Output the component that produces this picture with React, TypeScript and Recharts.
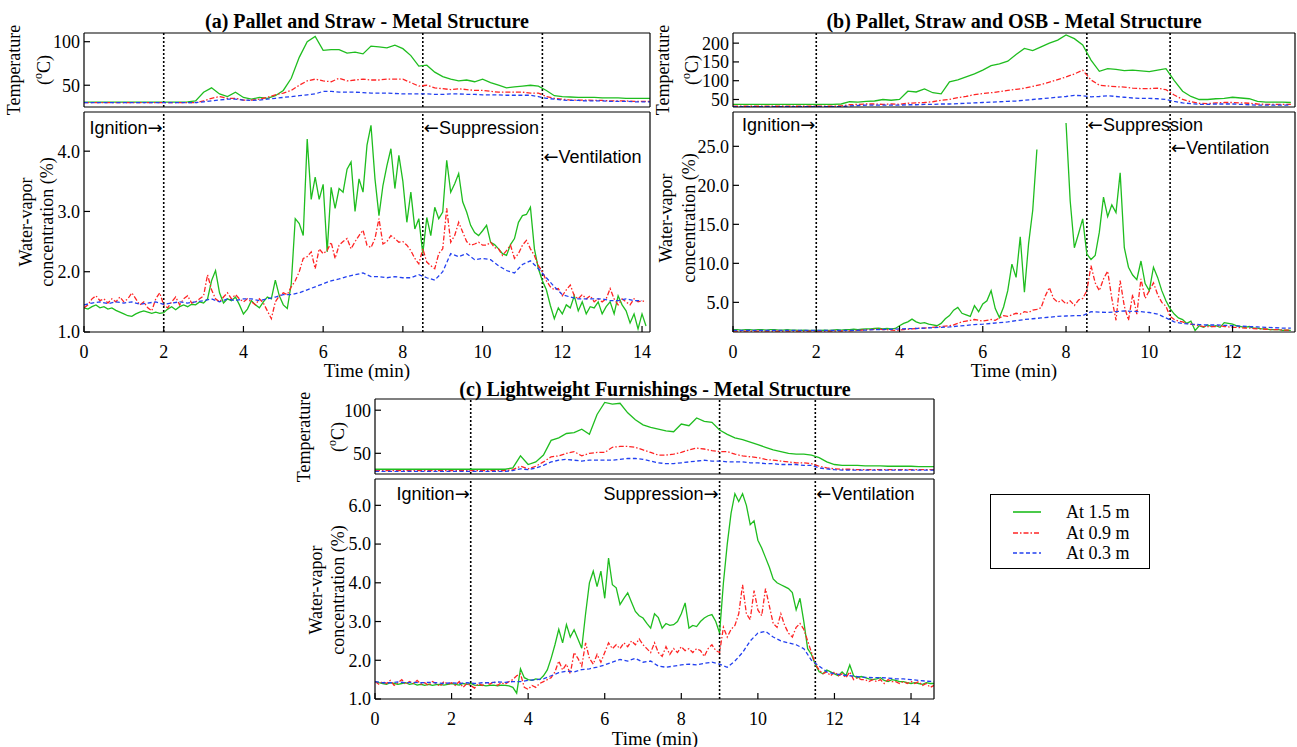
import React from "react"
import { LineChart, Line, XAxis, YAxis, ReferenceLine, Legend } from "recharts"

// ---- data ----
// water vapour: green/red sampled every 0.1 min, blue every 0.2 min
// temperature: every 0.2 min

const A_VAP_G = [
  1.40, 1.38, 1.42, 1.45, 1.40, 1.42, 1.38, 1.40, 1.36, 1.33,
  1.30, 1.27, 1.26, 1.30, 1.33, 1.35, 1.33, 1.31, 1.33, 1.31,
  1.32, 1.38, 1.42, 1.37, 1.42, 1.45, 1.42, 1.46, 1.45, 1.50,
  1.48, 1.55, 1.85, 2.02, 1.65, 1.48, 1.55, 1.52, 1.58, 1.45,
  1.30, 1.38, 1.52, 1.45, 1.40, 1.50, 1.58, 1.55, 1.86, 1.60,
  1.45, 1.39, 1.80, 2.88, 2.80, 2.60, 4.20, 3.20, 3.57, 3.20,
  3.45, 2.33, 3.40, 3.05, 3.38, 3.32, 3.70, 3.82, 3.00, 3.54,
  3.32, 4.10, 4.43, 3.54, 2.93, 3.43, 3.76, 4.04, 3.38, 3.93,
  3.50, 2.82, 3.32, 2.71, 2.88, 2.30, 2.90, 2.60, 3.07, 2.88,
  2.99, 3.85, 3.32, 3.46, 3.63, 3.16, 2.99, 2.77, 2.65, 2.60,
  2.68, 2.77, 2.49, 2.45, 2.38, 2.30, 2.27, 2.45, 2.55, 2.82,
  2.93, 2.95, 3.07, 2.38, 2.05, 1.85, 1.70, 1.44, 1.22, 1.40,
  1.30, 1.45, 1.40, 1.60, 1.35, 1.50, 1.30, 1.42, 1.40, 1.50,
  1.30, 1.42, 1.50, 1.30, 1.60, 1.45, 1.35, 1.15, 1.30, 1.05,
  1.30, 1.10,
]
const A_VAP_R = [
  1.40, 1.45, 1.55, 1.60, 1.52, 1.55, 1.48, 1.55, 1.50, 1.58,
  1.50, 1.55, 1.65, 1.55, 1.45, 1.50, 1.40, 1.35, 1.55, 1.65,
  1.45, 1.40, 1.50, 1.58, 1.45, 1.55, 1.60, 1.48, 1.50, 1.55,
  1.60, 1.95, 1.70, 1.55, 1.50, 1.58, 1.65, 1.55, 1.62, 1.55,
  1.50, 1.55, 1.50, 1.45, 1.55, 1.48, 1.35, 1.22, 1.50, 1.60,
  1.65, 1.62, 1.75, 1.85, 2.00, 2.22, 2.25, 2.33, 2.05, 2.38,
  2.30, 2.35, 2.49, 2.22, 2.44, 2.50, 2.55, 2.38, 2.50, 2.60,
  2.69, 2.44, 2.40, 2.55, 2.88, 2.46, 2.50, 2.60, 2.55, 2.49,
  2.50, 2.44, 2.35, 2.22, 2.13, 2.38, 2.16, 2.10, 2.05, 2.30,
  2.38, 3.05, 2.49, 2.60, 2.82, 2.66, 2.50, 2.44, 2.46, 2.49,
  2.44, 2.44, 2.49, 2.40, 2.38, 2.27, 2.35, 2.44, 2.22, 2.30,
  2.44, 2.52, 2.38, 2.27, 2.10, 2.00, 1.85, 1.75, 1.70, 1.72,
  1.60, 1.70, 1.78, 1.60, 1.55, 1.62, 1.55, 1.60, 1.50, 1.55,
  1.50, 1.55, 1.72, 1.55, 1.45, 1.55, 1.50, 1.45, 1.55, 1.50,
  1.52, 1.50,
]
const A_VAP_B = [
  1.45, 1.48, 1.50, 1.47, 1.50, 1.48, 1.50, 1.46, 1.48, 1.50,
  1.46, 1.48, 1.50, 1.48, 1.50, 1.52, 1.55, 1.50, 1.55, 1.52,
  1.55, 1.55, 1.52, 1.55, 1.58, 1.62, 1.62, 1.65, 1.70, 1.75,
  1.80, 1.85, 1.88, 1.92, 1.95, 1.98, 1.92, 1.92, 1.90, 1.92,
  1.90, 1.90, 1.95, 1.90, 1.86, 2.00, 2.30, 2.25, 2.30, 2.20,
  2.22, 2.20, 2.10, 2.02, 1.98, 2.12, 2.18, 2.05, 1.90, 1.75,
  1.62, 1.58, 1.55, 1.55, 1.55, 1.55, 1.52, 1.52, 1.55, 1.52,
  1.52,
]
const A_TEMP_G = [
  30.5, 30.5, 30.5, 30.5, 30.5, 30.5, 30.5, 30.5, 30.5, 30.5,
  30.5, 30.5, 30.5, 31, 32, 42, 47, 40, 37, 42,
  36, 34, 36, 35, 38, 44, 58, 82, 100, 106,
  90, 91, 91, 87, 88, 86, 95, 94, 93, 96,
  92, 84, 72, 73, 65, 60, 57, 55, 56, 54,
  57, 53, 50, 47, 48, 49, 50, 49, 44, 38,
  37, 36.5, 36, 36, 36, 35.5, 35.5, 35.5, 35, 35,
  35, 35,
]
const A_TEMP_R = [
  30, 30, 30, 30, 30, 30, 30, 30, 30, 30,
  30, 30, 30, 30, 30, 32, 35, 37, 35, 35,
  33, 33, 34, 36, 39, 41, 44, 50, 55, 57,
  55, 54, 58, 55, 56, 57, 56, 56, 57, 57,
  57, 53, 49, 50, 47, 46, 45, 46, 45, 44,
  44, 43, 42, 42, 42, 42, 41, 41, 37, 35,
  34, 33, 33, 33, 32.5, 32.5, 32, 32, 32, 31.5,
  31.5, 31.5,
]
const A_TEMP_B = [
  30, 30, 30, 30, 30, 30, 30, 30, 30, 30,
  30, 30, 30, 30, 30, 31, 32, 33, 34, 34,
  33, 32.5, 33, 34, 35, 36, 37, 38, 39, 40,
  43, 43, 42, 42, 42, 41.5, 41, 41, 41, 40.5,
  40, 40, 40, 40, 39.5, 39.5, 40, 40, 39.5, 39.5,
  39, 39, 39, 38.5, 38.5, 38.5, 38.5, 37, 35, 34,
  33, 32.5, 32.5, 32, 32, 32, 31.5, 31.5, 31.5, 31,
  31, 31,
]

const B_VAP_G = [
  1.50, 1.50, 1.45, 1.50, 1.50, 1.45, 1.50, 1.50, 1.45, 1.50,
  1.50, 1.45, 1.45, 1.50, 1.45, 1.45, 1.40, 1.45, 1.40, 1.40,
  1.40, 1.40, 1.45, 1.40, 1.45, 1.50, 1.45, 1.50, 1.50, 1.55,
  1.50, 1.55, 1.60, 1.60, 1.65, 1.70, 1.60, 1.65, 1.60, 1.65,
  2.00, 2.30, 2.50, 2.85, 2.50, 2.30, 2.40, 2.20, 2.10, 2.00,
  2.30, 2.90, 3.30, 4.00, 4.35, 3.60, 3.40, 3.20, 4.57, 3.80,
  4.80, 5.20, 6.50, 4.20, 3.06, 4.40, 6.50, 9.90, 8.20, 13.40,
  6.30, 12.50, 16.80, 24.60, null, null, null, null, null, null,
  28.00, 18.00, 12.00, 13.80, 15.70, 11.20, 10.50, 11.00, 14.00, 18.50,
  16.00, 17.50, 16.50, 21.60, 12.00, 9.50, 8.50, 7.90, 10.30, 7.40,
  6.50, 9.50, 8.20, 6.50, 5.20, 4.20, 3.50, 3.00, 2.80, 2.30,
  2.60, 1.40, 2.00, 1.80, 2.10, 1.90, 2.00, 1.80, 2.40, 2.30,
  2.20, 2.00, 1.90, 1.80, 1.90, 1.70, 1.70, 1.60, 1.60, 1.50,
  1.50, 1.50, 1.40, 1.45, 1.40,
]
const B_VAP_R = [
  1.30, 1.30, 1.30, 1.30, 1.30, 1.30, 1.30, 1.30, 1.30, 1.30,
  1.30, 1.30, 1.32, 1.30, 1.30, 1.32, 1.30, 1.30, 1.32, 1.30,
  1.30, 1.30, 1.32, 1.30, 1.32, 1.35, 1.33, 1.35, 1.35, 1.38,
  1.40, 1.45, 1.50, 1.50, 1.55, 1.60, 1.50, 1.50, 1.45, 1.40,
  1.45, 1.50, 1.55, 1.60, 1.65, 1.70, 1.70, 1.75, 1.80, 1.85,
  1.90, 1.95, 2.00, 2.10, 2.30, 2.50, 2.60, 2.70, 2.80, 2.70,
  2.60, 2.70, 2.80, 2.70, 3.00, 3.30, 3.20, 3.40, 3.60, 3.50,
  3.80, 3.70, 4.00, 4.10, 4.30, 5.80, 6.90, 5.50, 5.00, 5.30,
  4.80, 5.20, 4.60, 5.30, 5.50, 6.50, 9.70, 7.50, 6.50, 8.00,
  9.00, 5.50, 2.70, 7.80, 4.50, 2.70, 6.00, 3.50, 8.00, 5.50,
  6.50, 7.50, 6.00, 5.00, 4.50, 3.20, 2.80, 2.60, 2.50, 2.30,
  2.20, 2.10, 2.00, 1.90, 1.90, 1.90, 1.90, 2.00, 1.90, 1.85,
  1.80, 1.80, 1.75, 1.70, 1.70, 1.65, 1.60, 1.60, 1.55, 1.50,
  1.50, 1.50, 1.45, 1.45, 1.45,
]
const B_VAP_B = [
  1.40, 1.40, 1.40, 1.40, 1.40, 1.40, 1.40, 1.40, 1.40, 1.40,
  1.40, 1.40, 1.40, 1.40, 1.40, 1.42, 1.45, 1.50, 1.52, 1.55,
  1.60, 1.62, 1.65, 1.70, 1.75, 1.80, 1.85, 1.95, 2.05, 2.15,
  2.20, 2.30, 2.40, 2.50, 2.65, 2.80, 2.90, 3.00, 3.10, 3.20,
  3.25, 3.30, 3.30, 3.80, 3.75, 3.70, 3.80, 3.90, 3.85, 3.80,
  3.70, 3.50, 3.00, 2.50, 2.30, 2.20, 2.15, 2.10, 2.10, 2.05,
  2.00, 1.95, 1.90, 1.85, 1.80, 1.75, 1.70, 1.70,
]
const B_TEMP_G = [
  37, 37, 37, 37, 37, 37, 37, 37, 37, 37,
  37, 37, 37, 38, 44, 43, 45, 46, 50, 48,
  50, 72, 70, 78, 68, 65, 97, 102, 110, 118,
  128, 140, 145, 152, 170, 186, 180, 190, 200, 208,
  222, 212, 195, 155, 125, 132, 130, 127, 128, 126,
  124, 128, 132, 100, 72, 58, 50, 50, 52, 53,
  56, 54, 52, 45, 43, 43, 43, 42,
]
const B_TEMP_R = [
  32, 32, 32, 32, 32, 32, 32, 32, 32, 32,
  32, 32, 32, 33, 36, 37, 38, 38, 37, 38,
  37, 40, 41, 42, 44, 48, 50, 55, 58, 63,
  66, 68, 71, 74, 77, 80, 85, 90, 96, 103,
  110, 118, 128, 102, 88, 86, 84, 83, 80, 79,
  79, 80, 76, 62, 50, 44, 40, 39, 41, 42,
  42, 41, 40, 38, 37, 37, 37, 37,
]
const B_TEMP_B = [
  31, 31, 31, 31, 31, 31, 31, 31, 31, 31,
  31, 31, 31, 31, 33, 34, 35, 35, 35, 35,
  35, 36, 36, 37, 37, 38, 38, 39, 40, 41,
  42, 43, 44, 45, 46, 48, 50, 52, 54, 56,
  58, 61, 60, 57, 58, 60, 58, 56, 54, 53,
  53, 52, 50, 45, 41, 39, 37, 37, 38, 38,
  38, 37, 36, 35, 35, 35, 35, 35,
]

const C_VAP_G = [
  1.45, 1.42, 1.40, 1.38, 1.42, 1.40, 1.38, 1.40, 1.42, 1.38,
  1.40, 1.36, 1.38, 1.35, 1.38, 1.35, 1.37, 1.38, 1.36, 1.38,
  1.40, 1.38, 1.36, 1.40, 1.38, 1.40, 1.36, 1.35, 1.36, 1.34,
  1.35, 1.36, 1.34, 1.36, 1.35, 1.34, 1.30, 1.15, 1.78, 1.55,
  1.50, 1.48, 1.52, 1.50, 1.60, 1.75, 2.05, 2.40, 2.80, 2.45,
  2.92, 2.60, 2.79, 2.55, 2.31, 3.20, 4.00, 4.30, 3.90, 4.30,
  3.60, 4.64, 3.95, 3.87, 3.44, 3.60, 3.74, 3.50, 3.26, 3.15,
  3.09, 2.95, 2.83, 3.20, 3.10, 2.83, 2.95, 2.90, 2.92, 3.00,
  3.20, 3.48, 2.83, 2.90, 2.87, 3.00, 3.09, 3.15, 3.18, 3.00,
  2.70, 4.00, 5.00, 5.80, 6.30, 6.10, 6.30, 6.00, 5.50, 5.60,
  5.10, 4.90, 4.65, 4.40, 4.10, 4.00, 3.95, 3.90, 3.85, 3.75,
  3.30, 3.60, 3.00, 2.30, 2.15, 1.90, 1.70, 1.65, 1.75, 1.70,
  1.65, 1.60, 1.70, 1.60, 1.88, 1.60, 1.55, 1.58, 1.55, 1.52,
  1.50, 1.52, 1.55, 1.48, 1.45, 1.50, 1.48, 1.45, 1.45, 1.42,
  1.40, 1.42, 1.40, 1.38, 1.42, 1.40, 1.40,
]
const C_VAP_R = [
  1.45, 1.38, 1.45, 1.40, 1.48, 1.35, 1.42, 1.50, 1.38, 1.45,
  1.40, 1.48, 1.38, 1.42, 1.35, 1.45, 1.40, 1.33, 1.45, 1.38,
  1.42, 1.35, 1.45, 1.30, 1.40, 1.35, 1.28, 1.40, 1.35, 1.42,
  1.38, 1.45, 1.35, 1.42, 1.38, 1.45, 1.50, 1.60, 1.65, 1.30,
  1.25, 1.35, 1.30, 1.40, 1.45, 1.50, 1.55, 1.70, 1.98, 1.75,
  1.90, 1.65, 2.20, 2.05, 1.85, 2.45, 2.05, 1.90, 2.15, 1.95,
  2.20, 2.45, 2.30, 2.40, 2.30, 2.45, 2.35, 2.50, 2.40, 2.55,
  2.40, 2.30, 2.20, 2.45, 2.20, 2.10, 2.35, 2.15, 2.30, 2.20,
  2.35, 2.25, 2.30, 2.20, 2.30, 2.25, 2.10, 2.30, 2.40, 2.25,
  2.20, 2.85, 2.60, 2.80, 2.90, 3.20, 3.95, 3.20, 3.05, 3.80,
  3.30, 3.15, 3.85, 3.40, 2.95, 2.85, 3.20, 2.90, 2.70, 2.60,
  2.85, 2.95, 2.80, 2.50, 2.20, 1.90, 1.75, 1.65, 1.70, 1.60,
  1.70, 1.60, 1.65, 1.55, 1.70, 1.50, 1.55, 1.50, 1.50, 1.45,
  1.50, 1.45, 1.50, 1.40, 1.50, 1.45, 1.45, 1.40, 1.45, 1.40,
  1.45, 1.40, 1.45, 1.35, 1.40, 1.30, 1.35,
]
const C_VAP_B = [
  1.45, 1.42, 1.42, 1.44, 1.42, 1.43, 1.42, 1.43, 1.42, 1.40,
  1.42, 1.40, 1.42, 1.40, 1.42, 1.42, 1.44, 1.43, 1.45, 1.45,
  1.48, 1.50, 1.52, 1.60, 1.68, 1.72, 1.70, 1.76, 1.78, 1.82,
  1.88, 1.95, 2.02, 1.98, 2.05, 1.95, 1.98, 1.85, 1.82, 1.85,
  1.88, 1.90, 1.88, 1.92, 1.95, 1.90, 1.82, 1.98, 2.20, 2.50,
  2.70, 2.75, 2.60, 2.50, 2.45, 2.40, 2.30, 2.00, 1.85, 1.70,
  1.65, 1.62, 1.60, 1.58, 1.56, 1.55, 1.55, 1.54, 1.52, 1.52,
  1.50, 1.48, 1.46, 1.45,
]
const C_TEMP_G = [
  31.5, 31.5, 31.5, 31.5, 31.5, 31.5, 31.5, 31.5, 31.5, 31.5,
  31.5, 31.5, 31.5, 31.5, 31.5, 31.5, 31.5, 31.5, 33, 47,
  37, 40, 48, 65, 68, 73, 74, 78, 72, 95,
  109, 107, 108, 97, 89, 83, 80, 78, 76, 75,
  84, 82, 91, 87, 86, 77, 72, 68, 66, 63,
  60, 57, 54, 52, 50, 49, 49, 48, 45, 40,
  37, 36, 36, 36, 35.5, 35.5, 35.5, 35, 35, 35,
  35, 34.5, 34.5, 34.5,
]
const C_TEMP_R = [
  30, 30, 30, 30, 30, 30, 30, 30, 30, 30,
  30, 30, 30, 30, 30, 30, 30, 30, 31, 35,
  32, 35, 40, 46, 47, 50, 52, 47, 50, 51,
  51, 57, 58, 58, 57, 54, 51, 48, 48, 49,
  51, 54, 56, 55, 53, 52, 52, 49, 47, 46,
  45, 43, 42, 41, 40, 39, 39, 38, 35, 33,
  32, 31.5, 31.5, 31, 31, 31, 31, 31, 31, 31,
  31, 31, 31, 31,
]
const C_TEMP_B = [
  29, 29, 29, 29, 29, 29, 29, 29, 29, 29,
  29, 29, 29, 29, 29, 29, 29, 29, 30, 32,
  31, 33, 36, 40, 42, 43, 42, 41, 42, 42,
  42, 42, 43, 44, 44, 43, 41, 39, 38, 38,
  39, 40, 41, 42, 41, 41, 40, 40, 40, 39,
  39, 38, 38, 37, 37, 37, 36, 36, 33, 32,
  31, 30.5, 30.5, 30.5, 30.5, 30.5, 30.5, 30.5, 30.5, 30.5,
  30.5, 30.5, 30.5, 30.5,
]

const X_TICKS_14 = [0, 2, 4, 6, 8, 10, 12, 14]
const X_TICKS_12 = [0, 2, 4, 6, 8, 10, 12]

// ---- styling ----
const GREEN = "#1fbd1f"
const RED = "#ff2424"
const BLUE = "#2240f0"
const SERIF = '"Liberation Serif", "Times New Roman", serif'
const SANS = '"Liberation Sans", Arial, sans-serif'
const ML = 70
const MR = 12
const MT = 8
const MB = 46
const YW = 60 // left axis width
const XH = 40 // bottom axis height when labelled

const SERIES = [
  { key: "g", name: "At 1.5 m", color: GREEN, dash: undefined as string | undefined, connect: false },
  { key: "r", name: "At 0.9 m", color: RED, dash: "5 2 1.5 2", connect: false },
  { key: "b", name: "At 0.3 m", color: BLUE, dash: "4 2.5", connect: true },
]

const vaporRows = (g: (number | null)[], r: number[], b: number[]) =>
  g.map((v, i) => ({
    t: i / 10,
    g: v,
    r: r[i],
    b: i % 2 === 0 && b[i / 2] !== undefined ? b[i / 2] : null,
  }))

const tempRows = (g: number[], r: number[], b: number[]) =>
  g.map((v, i) => ({ t: i / 5, g: v, r: r[i], b: b[i] }))

type Anno = { x: number; text: string; side: "left" | "right"; dy: number }

interface PlotProps {
  frame: [number, number, number, number]
  rows: any[]
  xMax: number
  xTicks: number[]
  yDomain: [number, number]
  yTicks: number[]
  yFmt?: (v: number) => string
  showX?: boolean
  events: number[]
  annos?: Anno[]
  legendAt?: [number, number]
}

const LegendBox = () => (
  <div
    style={{
      width: 160,
      height: 75,
      border: "1.5px solid #000",
      background: "#fff",
      boxSizing: "border-box",
      paddingTop: 7,
      fontFamily: SERIF,
      fontSize: 18,
      lineHeight: "20.5px",
      color: "#000",
    }}
  >
    {SERIES.map((s) => (
      <div key={s.key} style={{ display: "flex", alignItems: "center", height: 20.5 }}>
        <svg width={75} height={10} style={{ display: "block" }}>
          <line x1={22} x2={50} y1={5} y2={5} stroke={s.color} strokeWidth={1.6} strokeDasharray={s.dash} />
        </svg>
        <span>{s.name}</span>
      </div>
    ))}
  </div>
)

function Plot({ frame, rows, xMax, xTicks, yDomain, yTicks, yFmt, showX, events, annos = [], legendAt }: PlotProps) {
  const [fx, fy, fw, fh] = frame
  const mb = showX ? MB : MT
  const xh = showX ? XH : 1
  const tickStyle = { fill: "#000", fontSize: 18, fontFamily: SERIF }
  const axisCommon = { stroke: "#000", strokeWidth: 1.2, tickSize: -6, interval: 0 as const, allowDataOverflow: true }
  return (
    <div style={{ position: "absolute", left: fx - ML, top: fy - MT }}>
      <LineChart
        width={fw + ML + MR}
        height={fh + MT + mb}
        data={rows}
        margin={{ top: MT - 1, right: MR - 1, bottom: mb - xh, left: ML - YW }}
      >
        <XAxis
          xAxisId="b"
          dataKey="t"
          type="number"
          domain={[0, xMax]}
          ticks={xTicks}
          height={xh}
          tickMargin={19}
          tick={showX ? tickStyle : false}
          {...axisCommon}
        />
        <XAxis
          xAxisId="t"
          dataKey="t"
          type="number"
          orientation="top"
          domain={[0, xMax]}
          ticks={xTicks}
          height={1}
          tick={false}
          {...axisCommon}
        />
        <YAxis
          yAxisId="l"
          type="number"
          domain={yDomain}
          ticks={yTicks}
          width={YW}
          tickMargin={10}
          tick={tickStyle}
          tickFormatter={yFmt}
          {...axisCommon}
        />
        <YAxis
          yAxisId="r"
          orientation="right"
          type="number"
          domain={yDomain}
          ticks={yTicks}
          width={1}
          tick={false}
          {...axisCommon}
        />
        {events.map((ev) => {
          const a = annos.find((n) => n.x === ev)
          return (
            <ReferenceLine
              key={ev}
              xAxisId="b"
              yAxisId="l"
              x={ev}
              stroke="#000"
              strokeWidth={1.6}
              strokeDasharray="2 2"
              label={
                a
                  ? (p: any) => (
                      <text
                        x={(p.viewBox?.x ?? 0) + (a.side === "right" ? 1 : -1)}
                        y={MT + a.dy}
                        textAnchor={a.side === "right" ? "start" : "end"}
                        fontFamily={SANS}
                        fontSize={18}
                        fill="#000"
                      >
                        {a.side === "right" && <tspan fontFamily="DejaVu Sans">{"\u2190"}</tspan>}
                        <tspan>{a.text}</tspan>
                        {a.side === "left" && <tspan fontFamily="DejaVu Sans">{"\u2192"}</tspan>}
                      </text>
                    )
                  : undefined
              }
            />
          )
        })}
        {SERIES.map((s) => (
          <Line
            key={s.key}
            xAxisId="b"
            yAxisId="l"
            type="linear"
            dataKey={s.key}
            name={s.name}
            stroke={s.color}
            strokeWidth={1.3}
            strokeDasharray={s.dash}
            dot={false}
            activeDot={false}
            connectNulls={s.connect}
            isAnimationActive={false}
          />
        ))}
        {legendAt && (
          <Legend
            layout="horizontal"
            verticalAlign="middle"
            align="center"
            wrapperStyle={{ left: legendAt[0] - (fx - ML), top: legendAt[1] - (fy - MT), width: 160 }}
            content={() => <LegendBox />}
          />
        )}
      </LineChart>
    </div>
  )
}

const fmt1 = (v: number) => v.toFixed(1)

const YLabel = ({ x, y, children }: { x: number; y: number; children: React.ReactNode }) => (
  <text
    transform={`translate(${x},${y}) rotate(-90)`}
    textAnchor="middle"
    dominantBaseline="central"
    fontFamily={SERIF}
    fontSize={18}
    fill="#000"
  >
    {children}
  </text>
)

const DegC = () => (
  <>
    (<tspan dy={-6} fontSize={12}>o</tspan>
    <tspan dy={6}>C)</tspan>
  </>
)

export default function App() {
  const aTemp = tempRows(A_TEMP_G, A_TEMP_R, A_TEMP_B)
  const aVap = vaporRows(A_VAP_G, A_VAP_R, A_VAP_B)
  const bTemp = tempRows(B_TEMP_G, B_TEMP_R, B_TEMP_B)
  const bVap = vaporRows(B_VAP_G, B_VAP_R, B_VAP_B)
  const cTemp = tempRows(C_TEMP_G, C_TEMP_R, C_TEMP_B)
  const cVap = vaporRows(C_VAP_G, C_VAP_R, C_VAP_B)

  return (
    <div style={{ position: "absolute", left: 0, top: 0, width: 1297, height: 747, background: "#fff", fontFamily: SERIF }}>
      {/* (a) */}
      <Plot frame={[84, 33, 566, 74]} rows={aTemp} xMax={14.2} xTicks={X_TICKS_14}
        yDomain={[25, 110]} yTicks={[50, 100]} events={[2, 8.5, 11.5]} />
      <Plot frame={[84, 112, 566, 220]} rows={aVap} xMax={14.2} xTicks={X_TICKS_14}
        yDomain={[1, 4.65]} yTicks={[1, 2, 3, 4]} yFmt={fmt1} showX events={[2, 8.5, 11.5]}
        annos={[
          { x: 2, text: "Ignition", side: "left", dy: 22 },
          { x: 8.5, text: "Suppression", side: "right", dy: 22 },
          { x: 11.5, text: "Ventilation", side: "right", dy: 51 },
        ]} />

      {/* (b) */}
      <Plot frame={[733, 33, 562, 74]} rows={bTemp} xMax={13.5} xTicks={X_TICKS_12}
        yDomain={[30, 227]} yTicks={[50, 100, 150, 200]} events={[2, 8.5, 10.5]} />
      <Plot frame={[733, 112, 562, 220]} rows={bVap} xMax={13.5} xTicks={X_TICKS_12}
        yDomain={[1.2, 29.4]} yTicks={[5, 10, 15, 20, 25]} yFmt={fmt1} showX events={[2, 8.5, 10.5]}
        annos={[
          { x: 2, text: "Ignition", side: "left", dy: 19 },
          { x: 8.5, text: "Suppression", side: "right", dy: 19 },
          { x: 10.5, text: "Ventilation", side: "right", dy: 42 },
        ]} />

      {/* (c) */}
      <Plot frame={[375, 399, 559, 75]} rows={cTemp} xMax={14.6} xTicks={X_TICKS_14}
        yDomain={[26, 113]} yTicks={[50, 100]} events={[2.5, 9, 11.5]} />
      <Plot frame={[375, 479, 559, 220]} rows={cVap} xMax={14.6} xTicks={X_TICKS_14}
        yDomain={[1, 6.68]} yTicks={[1, 2, 3, 4, 5, 6]} yFmt={fmt1} showX events={[2.5, 9, 11.5]}
        legendAt={[990, 494]}
        annos={[
          { x: 2.5, text: "Ignition", side: "left", dy: 21 },
          { x: 9, text: "Suppression", side: "left", dy: 21 },
          { x: 11.5, text: "Ventilation", side: "right", dy: 21 },
        ]} />

      <svg width={1297} height={747} style={{ position: "absolute", left: 0, top: 0, pointerEvents: "none" }}>
        <g fontFamily={SERIF} fontWeight="bold" fontSize={20} textAnchor="middle" fill="#000">
          <text x={367} y={21} dominantBaseline="central">(a) Pallet and Straw - Metal Structure</text>
          <text x={1014} y={21} dominantBaseline="central">(b) Pallet, Straw and OSB - Metal Structure</text>
          <text x={655} y={389} dominantBaseline="central">(c) Lightweight Furnishings - Metal Structure</text>
        </g>
        <g fontFamily={SERIF} fontSize={19} textAnchor="middle" fill="#000">
          <text x={367} y={370} dominantBaseline="central">Time (min)</text>
          <text x={1014} y={370} dominantBaseline="central">Time (min)</text>
          <text x={655} y={738} dominantBaseline="central">Time (min)</text>
        </g>
        <YLabel x={14} y={70}>Temperature</YLabel>
        <YLabel x={44} y={70}><DegC /></YLabel>
        <YLabel x={26} y={222}>Water-vapor</YLabel>
        <YLabel x={47} y={222}>concentration (%)</YLabel>

        <YLabel x={663} y={70}>Temperature</YLabel>
        <YLabel x={692} y={70}><DegC /></YLabel>
        <YLabel x={666} y={218}>Water-vapor</YLabel>
        <YLabel x={689} y={218}>concentration (%)</YLabel>

        <YLabel x={304} y={437}>Temperature</YLabel>
        <YLabel x={338} y={437}><DegC /></YLabel>
        <YLabel x={316} y={590}>Water-vapor</YLabel>
        <YLabel x={338} y={590}>concentration (%)</YLabel>
      </svg>
    </div>
  )
}
